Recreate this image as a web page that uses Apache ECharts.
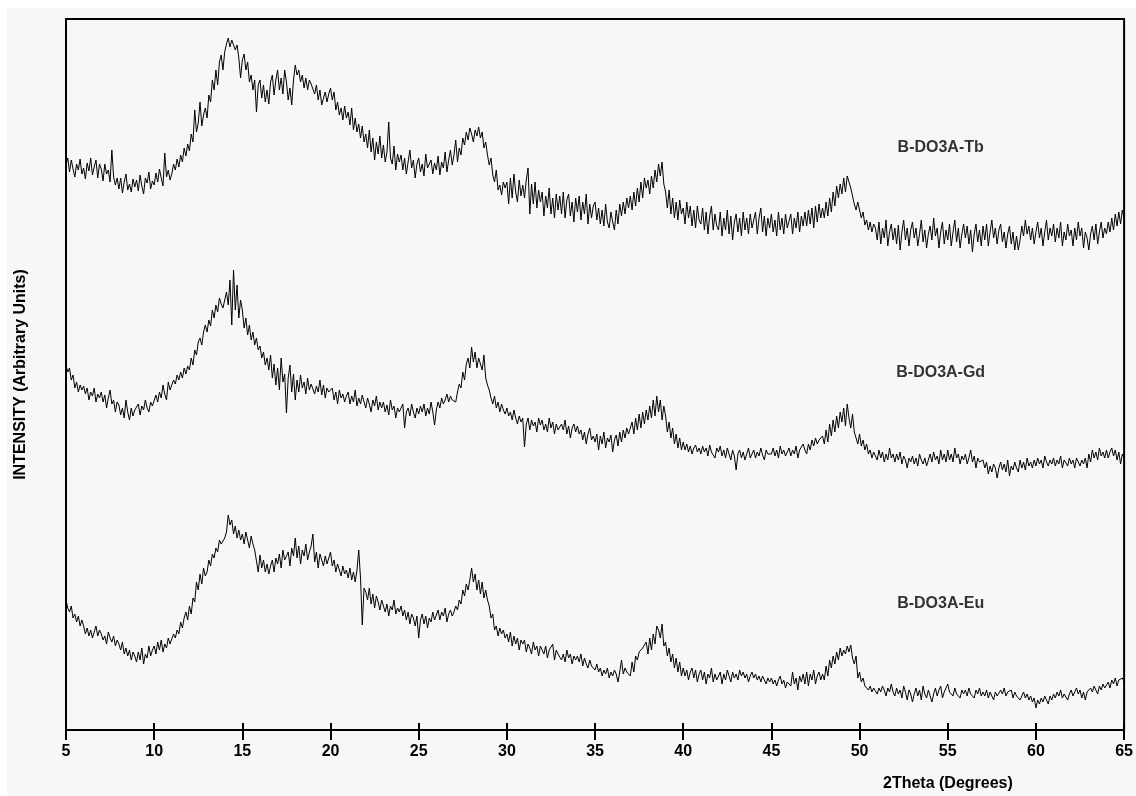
<!DOCTYPE html>
<html>
<head>
<meta charset="utf-8">
<script src="https://cdn.jsdelivr.net/npm/echarts@6/dist/echarts.min.js"></script>
<style>
  html, body { margin: 0; padding: 0; background: #fff; }
  #panel { position: absolute; left: 7px; top: 8px; width: 1129px; height: 788px; background: #f7f7f7; }
  #chart { position: absolute; left: 0; top: 0; width: 1136px; height: 796px; }
</style>
</head>
<body>
<div id="panel"></div>
<div id="chart"></div>
<script>
// 2theta grid: 5.0 .. 65.0 in 0.1 deg steps, one row per degree below
const thetaStart = 5;
const thetaStep = 0.1;
const xTicks = [5, 10, 15, 20, 25, 30, 35, 40, 45, 50, 55, 60, 65];
const sampleNames = ['B-DO3A-Tb', 'B-DO3A-Gd', 'B-DO3A-Eu'];

// intensities (arbitrary units, stacked offsets included)
const tbCounts = [
  565, 572, 558, 570, 561, 553, 566, 560, 571, 556,
  562, 551, 567, 559, 572, 555, 563, 570, 552, 566,
  561, 549, 566, 556, 560, 548, 580, 553, 545, 552,
  541, 552, 537, 548, 556, 540, 546, 538, 551, 543,
  550, 539, 555, 544, 536, 552, 547, 558, 541, 549,
  545, 557, 548, 561, 552, 544, 577, 553, 560, 550,
  556, 566, 560, 571, 563, 575, 568, 582, 574, 586,
  579, 596, 588, 620, 598, 607, 628, 604, 615, 622,
  612, 635, 628, 650, 640, 660, 645, 668, 675, 660,
  678, 686, 692, 683, 690, 688, 680, 685, 672, 652,
  670, 676, 660, 668, 648, 655, 640, 650, 618, 645,
  650, 632, 645, 628, 640, 626, 648, 655, 635, 650,
  660, 640, 652, 636, 660, 648, 630, 642, 625, 650,
  665, 655, 660, 648, 655, 642, 652, 640, 650, 646,
  648, 636, 645, 630, 640, 625, 632, 638, 628, 636,
  642, 630, 638, 620, 628, 615, 622, 610, 624, 612,
  618, 605, 622, 600, 612, 598, 606, 592, 604, 588,
  596, 582, 600, 578, 592, 570, 588, 576, 594, 572,
  585, 568, 578, 608, 572, 566, 584, 560, 576, 568,
  575, 560, 572, 556, 568, 580, 562, 570, 552, 566,
  572, 558, 566, 554, 576, 562, 560, 570, 556, 567,
  560, 574, 555, 568, 562, 578, 558, 570, 580, 565,
  575, 590, 568, 582, 575, 592, 585, 598, 590, 602,
  596, 588, 600, 594, 603, 592, 598, 582, 588, 575,
  565, 572, 555, 548, 560, 540, 545, 535, 548, 542,
  548, 526, 552, 532, 556, 538, 528, 550, 534, 545,
  532, 550, 562, 516, 546, 526, 548, 522, 540, 528,
  538, 514, 534, 522, 542, 516, 532, 512, 536, 520,
  534, 516, 538, 512, 530, 536, 514, 528, 508, 532,
  518, 534, 510, 528, 516, 536, 506, 526, 512, 524,
  528, 510, 522, 506, 520, 504, 526, 508, 502, 518,
  508, 500, 520, 506, 526, 514, 528, 516, 532, 522,
  534, 520, 538, 524, 542, 528, 548, 532, 552, 542,
  550, 536, 554, 542, 560, 548, 566, 554, 568, 546,
  538, 522, 540, 516, 532, 512, 528, 510, 530, 516,
  522, 506, 528, 512, 524, 504, 520, 502, 524, 510,
  506, 522, 500, 518, 496, 514, 524, 500, 516, 504,
  500, 518, 494, 512, 500, 520, 496, 514, 490, 508,
  516, 498, 512, 494, 518, 500, 512, 496, 516, 502,
  500, 518, 496, 512, 522, 498, 514, 494, 512, 502,
  516, 498, 510, 494, 518, 500, 512, 496, 516, 502,
  500, 516, 496, 512, 502, 518, 498, 514, 504, 518,
  504, 520, 506, 522, 502, 524, 508, 526, 512, 522,
  512, 528, 514, 532, 518, 538, 524, 544, 532, 546,
  536, 552, 538, 554, 553, 542, 544, 526, 520, 528,
  520, 512, 518, 505, 510, 500, 508, 498, 506, 502,
  490, 508, 486, 502, 492, 510, 484, 498, 506, 490,
  502, 486, 505, 480, 498, 510, 490, 502, 484, 500,
  508, 492, 502, 484, 496, 510, 488, 500, 482, 496,
  504, 490, 512, 494, 502, 482, 498, 508, 486, 500,
  490, 506, 484, 498, 510, 488, 502, 482, 496, 506,
  492, 504, 486, 500, 478, 496, 506, 488, 500, 484,
  504, 490, 506, 484, 498, 510, 492, 502, 486, 500,
  506, 488, 498, 482, 496, 504, 486, 498, 480, 494,
  480, 490, 504, 494, 510, 496, 504, 490, 502, 486,
  498, 508, 492, 502, 484, 498, 510, 490, 502, 494,
  506, 488, 502, 492, 508, 484, 498, 490, 506, 494,
  500, 484, 502, 490, 508, 494, 502, 482, 498, 492,
  480, 496, 504, 490, 506, 486, 498, 508, 492, 502,
  496, 508, 498, 512, 500, 516, 504, 518, 506, 520,
  512
];

const gdCounts = [
  365, 358, 362, 350, 355, 342, 348, 338, 345, 340,
  344, 336, 342, 330, 338, 334, 342, 328, 336, 332,
  338, 328, 335, 322, 332, 340, 326, 330, 318, 328,
  325, 315, 322, 312, 330, 318, 310, 322, 314, 320,
  318, 326, 315, 324, 320, 330, 322, 318, 328, 324,
  326, 335, 328, 338, 332, 345, 336, 330, 348, 340,
  342, 350, 346, 355, 350, 358, 352, 362, 356, 364,
  360, 372, 365, 380, 375, 388, 392, 385, 398, 405,
  398, 410, 404, 420, 412, 425, 418, 432, 426, 422,
  430, 438, 425, 450, 405, 460, 420, 445, 412, 430,
  420, 402, 412, 395, 405, 390, 398, 385, 392, 380,
  384, 372, 378, 365, 372, 360, 375, 352, 366, 345,
  362, 340, 372, 348, 356, 317, 352, 365, 338, 356,
  330, 350, 338, 355, 342, 348, 336, 352, 340, 346,
  348, 336, 344, 338, 350, 335, 345, 332, 342, 338,
  336, 342, 330, 338, 326, 340, 332, 336, 328, 334,
  338, 326, 334, 328, 340, 324, 332, 326, 335, 328,
  322, 332, 326, 318, 330, 324, 334, 320, 328, 322,
  328, 318, 325, 315, 330, 320, 324, 312, 322, 318,
  320, 326, 302, 318, 322, 314, 326, 318, 312, 322,
  316, 324, 318, 326, 314, 322, 316, 328, 318, 305,
  320, 328, 322, 332, 326, 330, 336, 328, 334, 330,
  332, 328, 338, 346, 342, 358, 350, 366, 372, 362,
  383, 368, 378, 362, 372, 366, 360, 375, 352, 345,
  340, 332, 326, 334, 322, 328, 318, 326, 320, 316,
  322, 314, 318, 310, 320, 312, 306, 314, 308, 312,
  283, 306, 312, 300, 310, 304, 308, 298, 312, 305,
  310, 300, 306, 298, 312, 302, 308, 296, 306, 300,
  298, 306, 300, 310, 296, 304, 292, 302, 306, 298,
  304, 296, 300, 290, 298, 286, 296, 302, 290, 294,
  288, 296, 280, 294, 286, 298, 282, 292, 288, 295,
  278, 290, 295, 284, 298, 288, 300, 292, 302, 296,
  294, 308, 296, 312, 300, 316, 302, 318, 306, 320,
  310, 324, 312, 330, 314, 334, 318, 330, 310, 324,
  314, 298, 308, 292, 302, 286, 296, 282, 292, 280,
  288, 280, 286, 278, 284, 276, 282, 285, 278, 282,
  276, 284, 278, 282, 274, 285, 278, 280, 272, 282,
  278, 284, 274, 280, 272, 282, 276, 270, 280, 274,
  260, 276, 280, 272, 278, 270, 276, 282, 272, 276,
  280, 272, 278, 274, 282, 275, 270, 280, 276, 274,
  276, 282, 274, 280, 272, 284, 276, 280, 274, 278,
  282, 274, 280, 276, 284, 272, 280, 278, 286, 280,
  276, 286, 280, 290, 284, 292, 286, 290, 288, 294,
  286, 300, 288, 306, 294, 310, 298, 314, 302, 318,
  308, 322, 304, 326, 312, 302, 316, 298, 300, 286,
  296, 284, 290, 280, 286, 276, 280, 272, 278, 276,
  270, 280, 272, 278, 268, 276, 270, 282, 272, 276,
  268, 276, 270, 278, 266, 274, 270, 262, 272, 268,
  274, 266, 272, 264, 276, 270, 266, 272, 264, 270,
  276, 268, 278, 270, 274, 266, 280, 270, 276, 268,
  280, 270, 276, 268, 282, 272, 276, 266, 274, 270,
  276, 266, 272, 280, 268, 274, 262, 272, 268, 266,
  270, 262, 268, 256, 264, 258, 266, 262, 252, 262,
  268, 260, 266, 258, 270, 254, 264, 260, 268, 262,
  258, 270, 262, 268, 260, 272, 264, 268, 262, 270,
  264, 272, 266, 270, 262, 274, 268, 264, 270, 266,
  272, 264, 270, 266, 274, 262, 270, 268, 264, 272,
  266, 270, 262, 272, 268, 264, 270, 266, 272, 262,
  276, 268, 280, 272, 278, 270, 282, 274, 278, 272,
  280, 272, 278, 282, 274, 280, 270, 278, 266, 276,
  272
];

const euCounts = [
  130, 122, 118, 124, 112, 116, 108, 114, 104, 110,
  104, 96, 102, 94, 100, 92, 98, 104, 94, 100,
  96, 90, 94, 86, 98, 92, 88, 94, 84, 90,
  86, 80, 88, 76, 82, 74, 80, 70, 78, 74,
  68, 78, 70, 82, 66, 76, 72, 84, 74, 80,
  84, 76, 88, 80, 90, 78, 86, 82, 92, 86,
  88, 96, 92, 100, 96, 108, 102, 112, 118, 110,
  124, 116, 132, 128, 148, 140, 156, 146, 162, 154,
  158, 170, 164, 176, 172, 182, 178, 190, 186, 184,
  192, 198, 215, 205, 210, 196, 204, 192, 200, 190,
  196, 186, 198, 190, 182, 194, 186, 180, 178, 158,
  175, 162, 170, 158, 166, 156, 164, 170, 158, 172,
  166, 176, 162, 180, 170, 168, 178, 164, 182, 174,
  192, 172, 184, 166, 180, 174, 186, 170, 178, 184,
  196, 168, 178, 162, 176, 170, 164, 174, 166, 172,
  178, 164, 170, 158, 166, 160, 154, 164, 156, 160,
  152, 162, 150, 158, 148, 160, 180, 152, 105, 142,
  138, 130, 142, 126, 136, 122, 134, 128, 120, 130,
  128, 118, 126, 114, 124, 120, 130, 116, 122, 118,
  124, 114, 120, 110, 118, 106, 116, 112, 104, 114,
  92, 110, 116, 106, 114, 102, 112, 108, 118, 110,
  112, 120, 110, 118, 114, 122, 108, 116, 120, 114,
  118, 124, 120, 130, 126, 140, 134, 146, 140, 150,
  162, 148, 156, 140, 150, 136, 148, 132, 140, 130,
  124, 112, 116, 100, 104, 94, 102, 96, 100, 92,
  96, 88, 98, 84, 94, 86, 92, 80, 90, 86,
  90, 78, 86, 82, 76, 88, 80, 84, 74, 84,
  82, 76, 84, 72, 80, 78, 86, 70, 80, 76,
  78, 70, 76, 68, 80, 72, 76, 66, 74, 70,
  74, 68, 76, 64, 72, 66, 62, 70, 64, 66,
  60, 66, 58, 62, 54, 60, 56, 62, 52, 58,
  54, 60, 56, 48, 58, 70, 56, 62, 58, 60,
  54, 68, 58, 74, 70, 78, 76, 82, 80, 88,
  76, 92, 80, 96, 86, 104, 100, 92, 106, 84,
  88, 74, 82, 68, 76, 62, 72, 58, 68, 54,
  62, 54, 60, 50, 58, 62, 52, 60, 48, 56,
  60, 50, 58, 46, 56, 52, 62, 48, 56, 50,
  52, 58, 46, 56, 50, 60, 54, 48, 58, 52,
  56, 50, 60, 54, 58, 52, 56, 48, 54, 58,
  52, 56, 50, 54, 48, 54, 50, 46, 52, 48,
  52, 46, 50, 44, 50, 54, 46, 50, 42, 48,
  50, 44, 58, 46, 52, 40, 54, 48, 56, 46,
  58, 44, 56, 50, 60, 46, 54, 58, 50, 56,
  50, 64, 54, 70, 62, 74, 66, 78, 70, 82,
  74, 80, 76, 84, 78, 85, 72, 66, 74, 52,
  58, 48, 52, 44, 46, 40, 44, 38, 42, 40,
  36, 42, 38, 44, 40, 34, 42, 38, 46, 38,
  34, 42, 36, 40, 32, 44, 38, 30, 40, 36,
  28, 36, 42, 34, 40, 30, 44, 36, 32, 40,
  38, 28, 36, 42, 34, 40, 44, 32, 38, 42,
  46, 38, 40, 34, 42, 36, 38, 32, 40, 36,
  40, 34, 42, 36, 38, 32, 40, 36, 42, 34,
  38, 34, 40, 32, 38, 36, 30, 38, 34, 36,
  40, 36, 42, 34, 38, 36, 40, 32, 38, 34,
  36, 30, 34, 38, 32, 36, 30, 34, 28, 32,
  22, 30, 26, 32, 28, 34, 30, 26, 34, 30,
  36, 32, 38, 34, 40, 32, 36, 38, 30, 36,
  40, 34, 38, 42, 36, 40, 32, 38, 30, 38,
  36, 42, 38, 44, 40, 36, 44, 40, 46, 42,
  44, 48, 42, 50, 46, 52, 44, 50, 48, 52,
  48
];

// where each sample name sits, in data coordinates [2theta, intensity]
const labelAt = [[54.6, 582], [54.6, 357], [54.6, 126]];

const font = '"Liberation Sans", Arial, sans-serif';

function toPairs(counts) {
  return counts.map((v, i) => [+(thetaStart + i * thetaStep).toFixed(1), v]);
}

const chart = echarts.init(document.getElementById('chart'));

const traces = [tbCounts, gdCounts, euCounts].map((c, k) => ({
  name: sampleNames[k],
  type: 'line',
  data: toPairs(c),
  showSymbol: false,
  symbol: 'none',
  lineStyle: { color: '#000', width: 1 },
  silent: true,
  z: 3
}));

chart.setOption({
  animation: false,
  grid: {
    left: 66, right: 10, top: 19, bottom: 66,
    show: true, borderColor: '#000', borderWidth: 2, backgroundColor: 'transparent'
  },
  xAxis: [{
    type: 'value',
    min: 5, max: 65, interval: 5,
    axisLine: { lineStyle: { color: '#000', width: 2 } },
    axisTick: { length: 10, lineStyle: { color: '#000', width: 2 } },
    axisLabel: {
      margin: 14, color: '#000', fontSize: 16, fontWeight: 'bold', fontFamily: font,
      customValues: xTicks
    },
    splitLine: { show: false }
  }, {
    type: 'value',
    position: 'bottom',
    min: 5, max: 65, interval: 5,
    axisLine: { show: false },
    axisTick: { inside: true, length: 7, lineStyle: { color: '#000', width: 2 } },
    axisLabel: { show: false },
    splitLine: { show: false }
  }],
  yAxis: {
    type: 'value',
    min: 0, max: 711,
    name: 'INTENSITY (Arbitrary Units)',
    nameLocation: 'middle',
    nameRotate: 90,
    nameGap: 37,
    nameTextStyle: { color: '#000', fontSize: 16, fontWeight: 'bold', fontFamily: font },
    axisLine: { show: true, lineStyle: { color: '#000', width: 2 } },
    axisTick: { show: false },
    axisLabel: { show: false },
    splitLine: { show: false }
  },
  series: traces.concat([{
    type: 'scatter',
    symbolSize: 0,
    silent: true,
    data: labelAt.map((p, k) => ({ value: p, name: sampleNames[k] })),
    label: {
      show: true, position: 'inside', formatter: '{b}',
      color: '#000', fontSize: 16, fontWeight: 'bold', fontFamily: font
    }
  }]),
  graphic: [{
    type: 'text',
    left: 883, top: 776,
    style: { text: '2Theta (Degrees)', fill: '#000', font: 'bold 16px ' + font }
  }]
});
</script>
</body>
</html>
